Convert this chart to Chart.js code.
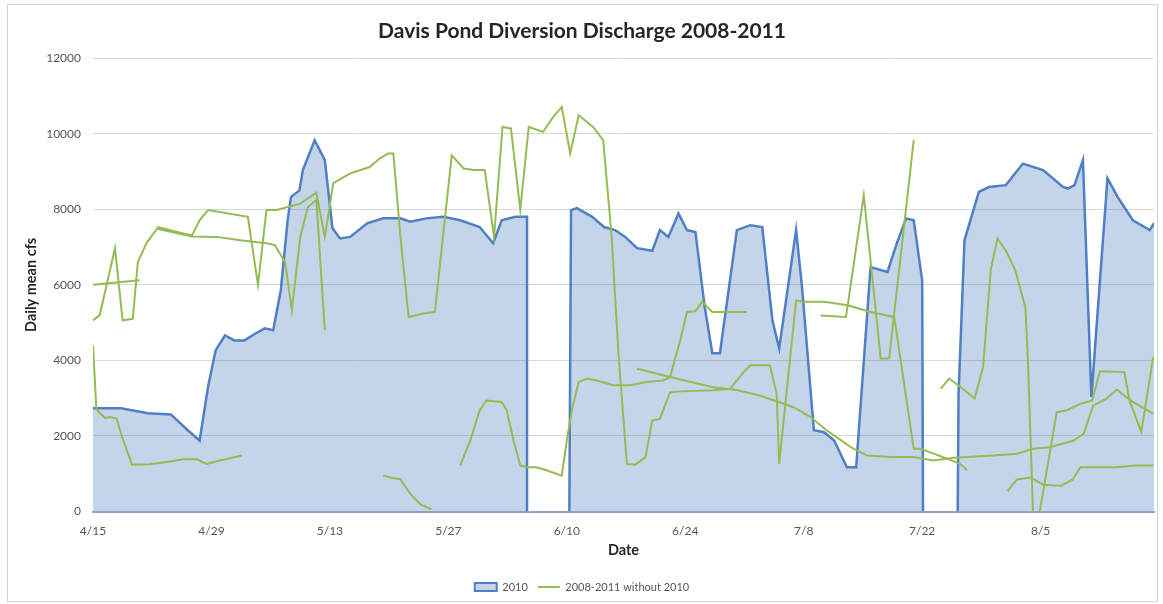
<!DOCTYPE html>
<html>
<head>
<meta charset="utf-8">
<script src="https://cdn.jsdelivr.net/npm/chart.js@4.4.1/dist/chart.umd.min.js"></script>
<style>
html,body{margin:0;padding:0;background:#fff;}
canvas{display:block;}
</style>
</head>
<body>
<canvas id="c" width="1163" height="604"></canvas>
<script>
// x values are days after 4/15
const dayTicks = [0,14,28,42,56,70,84,98,112];
const dateLabels = ['4/15','4/29','5/13','5/27','6/10','6/24','7/8','7/22','8/5'];
const cfsTicks = [0,2000,4000,6000,8000,10000,12000];

// 2010 series (area)
const days2010 = [0,3.3,6.5,9.2,11.2,12.6,13.6,14.5,15.6,16.7,17.9,19.1,20.3,21.3,22.2,23.0,23.4,24.4,24.8,26.2,27.4,28.3,29.2,30.4,32.4,34.3,36.3,37.5,39.4,41.4,43.4,45.7,47.3,48.3,49.9,51.3,51.3,53.8,56.3,56.5,57.2,59.0,60.4,61.7,62.9,64.3,66.1,67.0,68.0,69.2,70.2,71.2,72.3,73.2,74.1,76.1,77.7,79.1,80.3,81.1,83.1,83.8,85.2,86.4,87.6,89.1,90.2,91.9,93.9,95.0,96.1,97.0,98.0,98.1,100.1,102.2,102.3,103.0,104.7,105.9,107.9,109.9,112.3,114.6,115.2,116.0,117.0,118.0,119.9,121.1,122.9,124.9,125.4];
const cfs2010 = [2730,2730,2600,2570,2150,1880,3300,4270,4660,4530,4530,4700,4850,4800,5860,7700,8330,8500,9040,9830,9300,7500,7230,7270,7630,7760,7760,7670,7760,7800,7710,7530,7100,7710,7800,7800,0,null,0,7980,8030,7800,7530,7450,7270,6970,6900,7450,7270,7890,7450,7400,5410,4190,4190,7450,7580,7530,5060,4320,7450,5940,2150,2100,1880,1170,1170,6470,6340,7100,7760,7710,6120,0,null,0,3100,7180,8460,8590,8640,9210,9040,8600,8550,8640,9300,3030,8820,8330,7710,7450,7630];

// 2008-2011 without 2010 (several traces, same style)
const daysA = [0,0.8,2.6,3.5,4.7,5.3,6.3,7.7,9.7,11.7,12.6,13.6,18.3,19.5,20.5,21.7,24.5,26.4,27.4,28.4,30.4,32.7,33.9,34.9,35.5,36.3,37.3,39.0,40.4,42.4,43.8,45.0,46.3,47.4,48.4,49.4,50.5,51.5,53.2,54.4,55.4,56.4,57.4,59.1,60.3,61.3,62.1,63.1,64.1,65.3,66.1,67.0,68.2,69.3,73.3,75.3,76.9,77.7,80.0,80.8,81.1,83.1,84.0,86.4,89.2,91.9,94.7,97.0,97.8,99.3,100.9,102.5,103.3];
const cfsA = [5060,5200,6970,5060,5100,6600,7100,7530,7410,7310,7710,7980,7800,6000,7980,7980,8150,8440,7270,8690,8950,9120,9350,9480,9480,7360,5150,5240,5280,9430,9080,9040,9040,7270,10180,10140,7980,10180,10050,10450,10710,9480,10490,10180,9830,7270,4190,1260,1240,1440,2410,2450,3150,3180,3210,3250,3690,3870,3870,3120,1260,5590,5550,5550,5460,5280,5150,1660,1660,1540,1400,1260,1090];

const daysB = [0,5.5,6.6,7.7,11.7,14.6,17.4,20.5,21.5,22.7,23.5,24.5,25.4,26.4,27.4];
const cfsB = [6000,6120,null,7480,7280,7270,7180,7100,7050,6600,5330,7270,8060,8250,4800];

const daysC = [0,0.4,1.4,2.0,2.8,3.4,4.6,6.7,8.7,10.7,12.3,13.4,15.0,17.6];
const cfsC = [4400,2700,2480,2500,2460,2000,1240,1250,1310,1380,1380,1260,1350,1480];

const daysD = [34.3,35.5,36.3,37.5,38.7,40.0];
const cfsD = [950,880,860,470,190,60];

const daysH = [43.4,44.6,45.7,46.5,48.3,48.9,49.7,50.5,51.3,52.4,53.6,55.4,56.0,56.6,57.4,58.4,59.5,61.5,63.5,65.4,67.4,68.2,69.4,70.2,71.2,72.0,73.2,77.3];
const cfsH = [1220,1880,2680,2940,2900,2680,1880,1220,1170,1170,1090,950,1880,2680,3430,3520,3470,3340,3340,3430,3470,3560,4530,5280,5300,5550,5280,5280];

const daysF = [64.3,68.2,73.3,76.2,78.8,80.5,82.8,84.8,86.7,89.6,91.5,94.3,97.0,99.3,101.7,106.4,109.2,111.1,113.1,115.9,117.1,118.2,119.8,121.0,122.6,125.3];
const cfsF = [3780,3560,3290,3210,3070,2940,2760,2500,2150,1700,1480,1440,1440,1350,1420,1480,1530,1660,1700,1880,2060,2800,2990,3230,2940,2590];

const daysG = [86.0,89.0,91.1,93.1,94.1,97.0];
const cfsG = [5190,5150,8370,4050,4050,9830];

const daysI = [100.2,101.2,102.4,104.2,105.2,106.1,106.9,107.9,109.0,110.2,110.5,110.8,111.1];
const cfsI = [3250,3520,3320,2990,3820,6390,7230,6900,6390,5410,4000,2000,0];

const daysJ = [108.1,109.2,110.8,112.3,114.4,115.8,116.7,118.2,120.9,123.3,125.3];
const cfsJ = [540,850,900,710,680,850,1170,1170,1170,1220,1220];

const daysK = [111.9,113.9,115.1,116.7,118.1,119.0,121.9,122.5,123.9,125.3];
const cfsK = [0,2630,2680,2850,2940,3710,3690,2940,2100,4090];

const BLUE = '#4f7fc4';
const BLUE_FILL = 'rgba(79,129,189,0.33)';
const GREEN = '#94bb54';
const FONT = 'Lato, "Open Sans", "Liberation Sans", sans-serif';

function pts(xs, ys) { return xs.map((x, i) => ({x: x, y: ys[i]})); }

const greenSets = [[daysA,cfsA],[daysB,cfsB],[daysC,cfsC],[daysD,cfsD],[daysH,cfsH],[daysF,cfsF],[daysG,cfsG],[daysI,cfsI],[daysJ,cfsJ],[daysK,cfsK]];

const datasets = [{
  label: '2010',
  data: pts(days2010, cfs2010),
  borderColor: BLUE,
  backgroundColor: BLUE_FILL,
  borderWidth: 2.5,
  fill: 'origin',
  pointRadius: 0,
  tension: 0,
  spanGaps: false,
  order: 1
}];
greenSets.forEach(([xs, ys]) => {
  datasets.push({
    label: '2008-2011 without 2010',
    data: pts(xs, ys),
    borderColor: GREEN,
    backgroundColor: GREEN,
    borderWidth: 2,
    fill: false,
    pointRadius: 0,
    tension: 0,
    spanGaps: false,
    order: 0
  });
});

const frame = {
  id: 'frame',
  beforeDraw(chart) {
    const c = chart.ctx;
    c.save(); c.fillStyle = '#fff'; c.fillRect(0, 0, chart.width, chart.height); c.restore();
  },
  afterDraw(chart) {
    const c = chart.ctx;
    c.save(); c.strokeStyle = '#d4d4d4'; c.lineWidth = 1;
    c.strokeRect(7.5, 4.5, 1150, 597); c.restore();
  }
};

new Chart(document.getElementById('c'), {
  type: 'line',
  data: { datasets },
  plugins: [frame],
  options: {
    responsive: false,
    animation: false,
    devicePixelRatio: 1,
    layout: { padding: { left: 10, right: 9, top: 0, bottom: 1.5 } },
    plugins: {
      title: {
        display: true,
        text: 'Davis Pond Diversion Discharge 2008-2011',
        color: '#262626',
        font: { family: FONT, size: 21, weight: 'bold' },
        padding: { top: 19, bottom: 14 }
      },
      legend: {
        position: 'bottom',
        labels: {
          color: '#555',
          font: { family: FONT, size: 11 },
          padding: 10,
          usePointStyle: true,
          pointStyleWidth: 22,
          boxHeight: 8,
          generateLabels() {
            return [
              { text: '2010', fillStyle: BLUE_FILL, strokeStyle: BLUE, lineWidth: 2, pointStyle: 'rect', datasetIndex: 0, fontColor: '#555' },
              { text: '2008-2011 without 2010', fillStyle: GREEN, strokeStyle: GREEN, lineWidth: 2, pointStyle: 'line', datasetIndex: 1, fontColor: '#555' }
            ];
          }
        }
      },
      tooltip: { enabled: false }
    },
    scales: {
      x: {
        type: 'linear',
        min: 0,
        max: 125.4,
        afterFit(scale) { scale.height = 60; },
        afterBuildTicks(scale) { scale.ticks = dayTicks.map(v => ({ value: v })); },
        ticks: {
          autoSkip: false,
          maxRotation: 0,
          padding: 12,
          color: '#555',
          font: { family: FONT, size: 12 },
          callback: (v, i) => dateLabels[i]
        },
        grid: { display: false, drawTicks: false },
        border: { display: true, color: '#8ea6cb', width: 2 },
        title: {
          display: true,
          text: 'Date',
          color: '#262626',
          font: { family: FONT, size: 14.5, weight: 'bold' },
          padding: { top: 0, bottom: 12 }
        }
      },
      y: {
        min: 0,
        max: 12000,
        afterFit(scale) { scale.width = 83; },
        afterBuildTicks(scale) { scale.ticks = cfsTicks.map(v => ({ value: v })); },
        ticks: {
          padding: 12,
          color: '#555',
          font: { family: FONT, size: 12 },
          callback: (v) => String(v)
        },
        grid: { color: '#d9d9d9', lineWidth: 1, drawTicks: false },
        border: { display: false },
        title: {
          display: true,
          text: 'Daily mean cfs',
          color: '#262626',
          font: { family: FONT, size: 14.5, weight: 'bold' },
          padding: { top: 13, bottom: 0 }
        }
      }
    }
  }
});
</script>
</body>
</html>
